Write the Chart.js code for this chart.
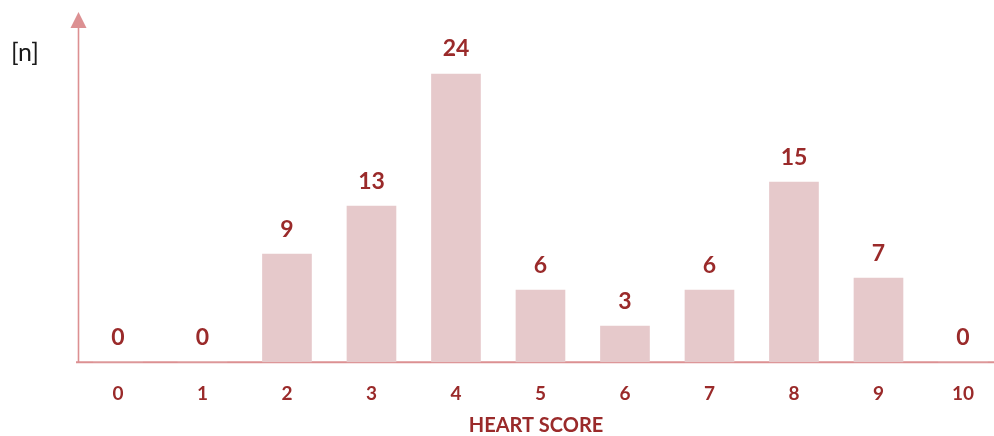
<!DOCTYPE html>
<html>
<head>
<meta charset="utf-8">
<script src="https://cdn.jsdelivr.net/npm/chart.js@4/dist/chart.umd.min.js"></script>
<style>
  html, body { margin: 0; padding: 0; background: #ffffff; }
  #wrap { width: 994px; height: 436px; position: relative; }
</style>
</head>
<body>
<div id="wrap"><canvas id="chart"></canvas></div>
<script>
// HEART score distribution: number of patients per score
const scores = [0, 1, 2, 3, 4, 5, 6, 7, 8, 9, 10];
const counts = [0, 0, 9, 13, 24, 6, 3, 6, 15, 7, 0];
const axisTitle = 'HEART SCORE';
const unitLabel = '[n]';

const barFill = '#e6c9cb';
const textRed = '#9a2a2a';
const axisPink = '#dc9092';

// Value labels above each bar
const valueLabels = {
  id: 'valueLabels',
  afterDatasetsDraw(chart) {
    const ctx = chart.ctx;
    const meta = chart.getDatasetMeta(0);
    ctx.save();
    ctx.font = 'bold 23px Lato';
    ctx.fillStyle = textRed;
    ctx.textAlign = 'center';
    ctx.textBaseline = 'middle';
    meta.data.forEach((bar, i) => {
      ctx.fillText(String(counts[i]), bar.x, bar.y - 25);
    });
    ctx.restore();
  }
};

// Axis lines with an arrow head on the vertical axis, plus the unit label
const axes = {
  id: 'axes',
  beforeDatasetsDraw(chart) {
    const ctx = chart.ctx;
    const { left, right, top, bottom } = chart.chartArea;
    const x0 = left + 0.5;
    ctx.save();
    // horizontal axis
    ctx.strokeStyle = axisPink;
    ctx.lineWidth = 2;
    ctx.beginPath();
    ctx.moveTo(left - 2, bottom);
    ctx.lineTo(right, bottom);
    ctx.stroke();
    // vertical axis
    ctx.lineWidth = 1.6;
    ctx.beginPath();
    ctx.moveTo(x0, bottom);
    ctx.lineTo(x0, top);
    ctx.stroke();
    // arrow head
    ctx.fillStyle = axisPink;
    ctx.beginPath();
    ctx.moveTo(x0, top - 14);
    ctx.lineTo(x0 - 8, top + 2);
    ctx.lineTo(x0 + 8, top + 2);
    ctx.closePath();
    ctx.fill();
    // unit label
    ctx.fillStyle = '#1a1a1a';
    ctx.font = '25px Lato';
    ctx.textAlign = 'left';
    ctx.textBaseline = 'middle';
    ctx.fillText(unitLabel, 11, 53);
    ctx.restore();
  }
};

new Chart(document.getElementById('chart'), {
  type: 'bar',
  data: {
    datasets: [{
      data: scores.map((s, i) => ({ x: s, y: counts[i] })),
      backgroundColor: barFill,
      borderWidth: 0,
      barThickness: 49
    }]
  },
  options: {
    responsive: true,
    maintainAspectRatio: false,
    animation: false,
    layout: { padding: { left: 78, top: 26, right: 0, bottom: 0 } },
    plugins: { legend: { display: false }, tooltip: { enabled: false } },
    scales: {
      x: {
        type: 'linear',
        offset: false,
        min: -0.473,
        max: 10.367,
        grid: { display: false, drawTicks: false, offset: false },
        border: { display: false },
        afterBuildTicks(scale) {
          scale.ticks = scores.map(v => ({ value: v }));
        },
        ticks: {
          color: textRed,
          font: { family: 'Lato', weight: 'bold', size: 19 },
          padding: 20,
          maxRotation: 0,
          autoSkip: false,
          callback: v => String(v)
        },
        title: {
          display: true,
          text: axisTitle,
          color: textRed,
          font: { family: 'Lato', weight: 'bold', size: 20 },
          padding: { top: -11, bottom: -2 }
        }
      },
      y: {
        display: false,
        min: 0,
        max: 28
      }
    }
  },
  plugins: [axes, valueLabels]
});
</script>
</body>
</html>
